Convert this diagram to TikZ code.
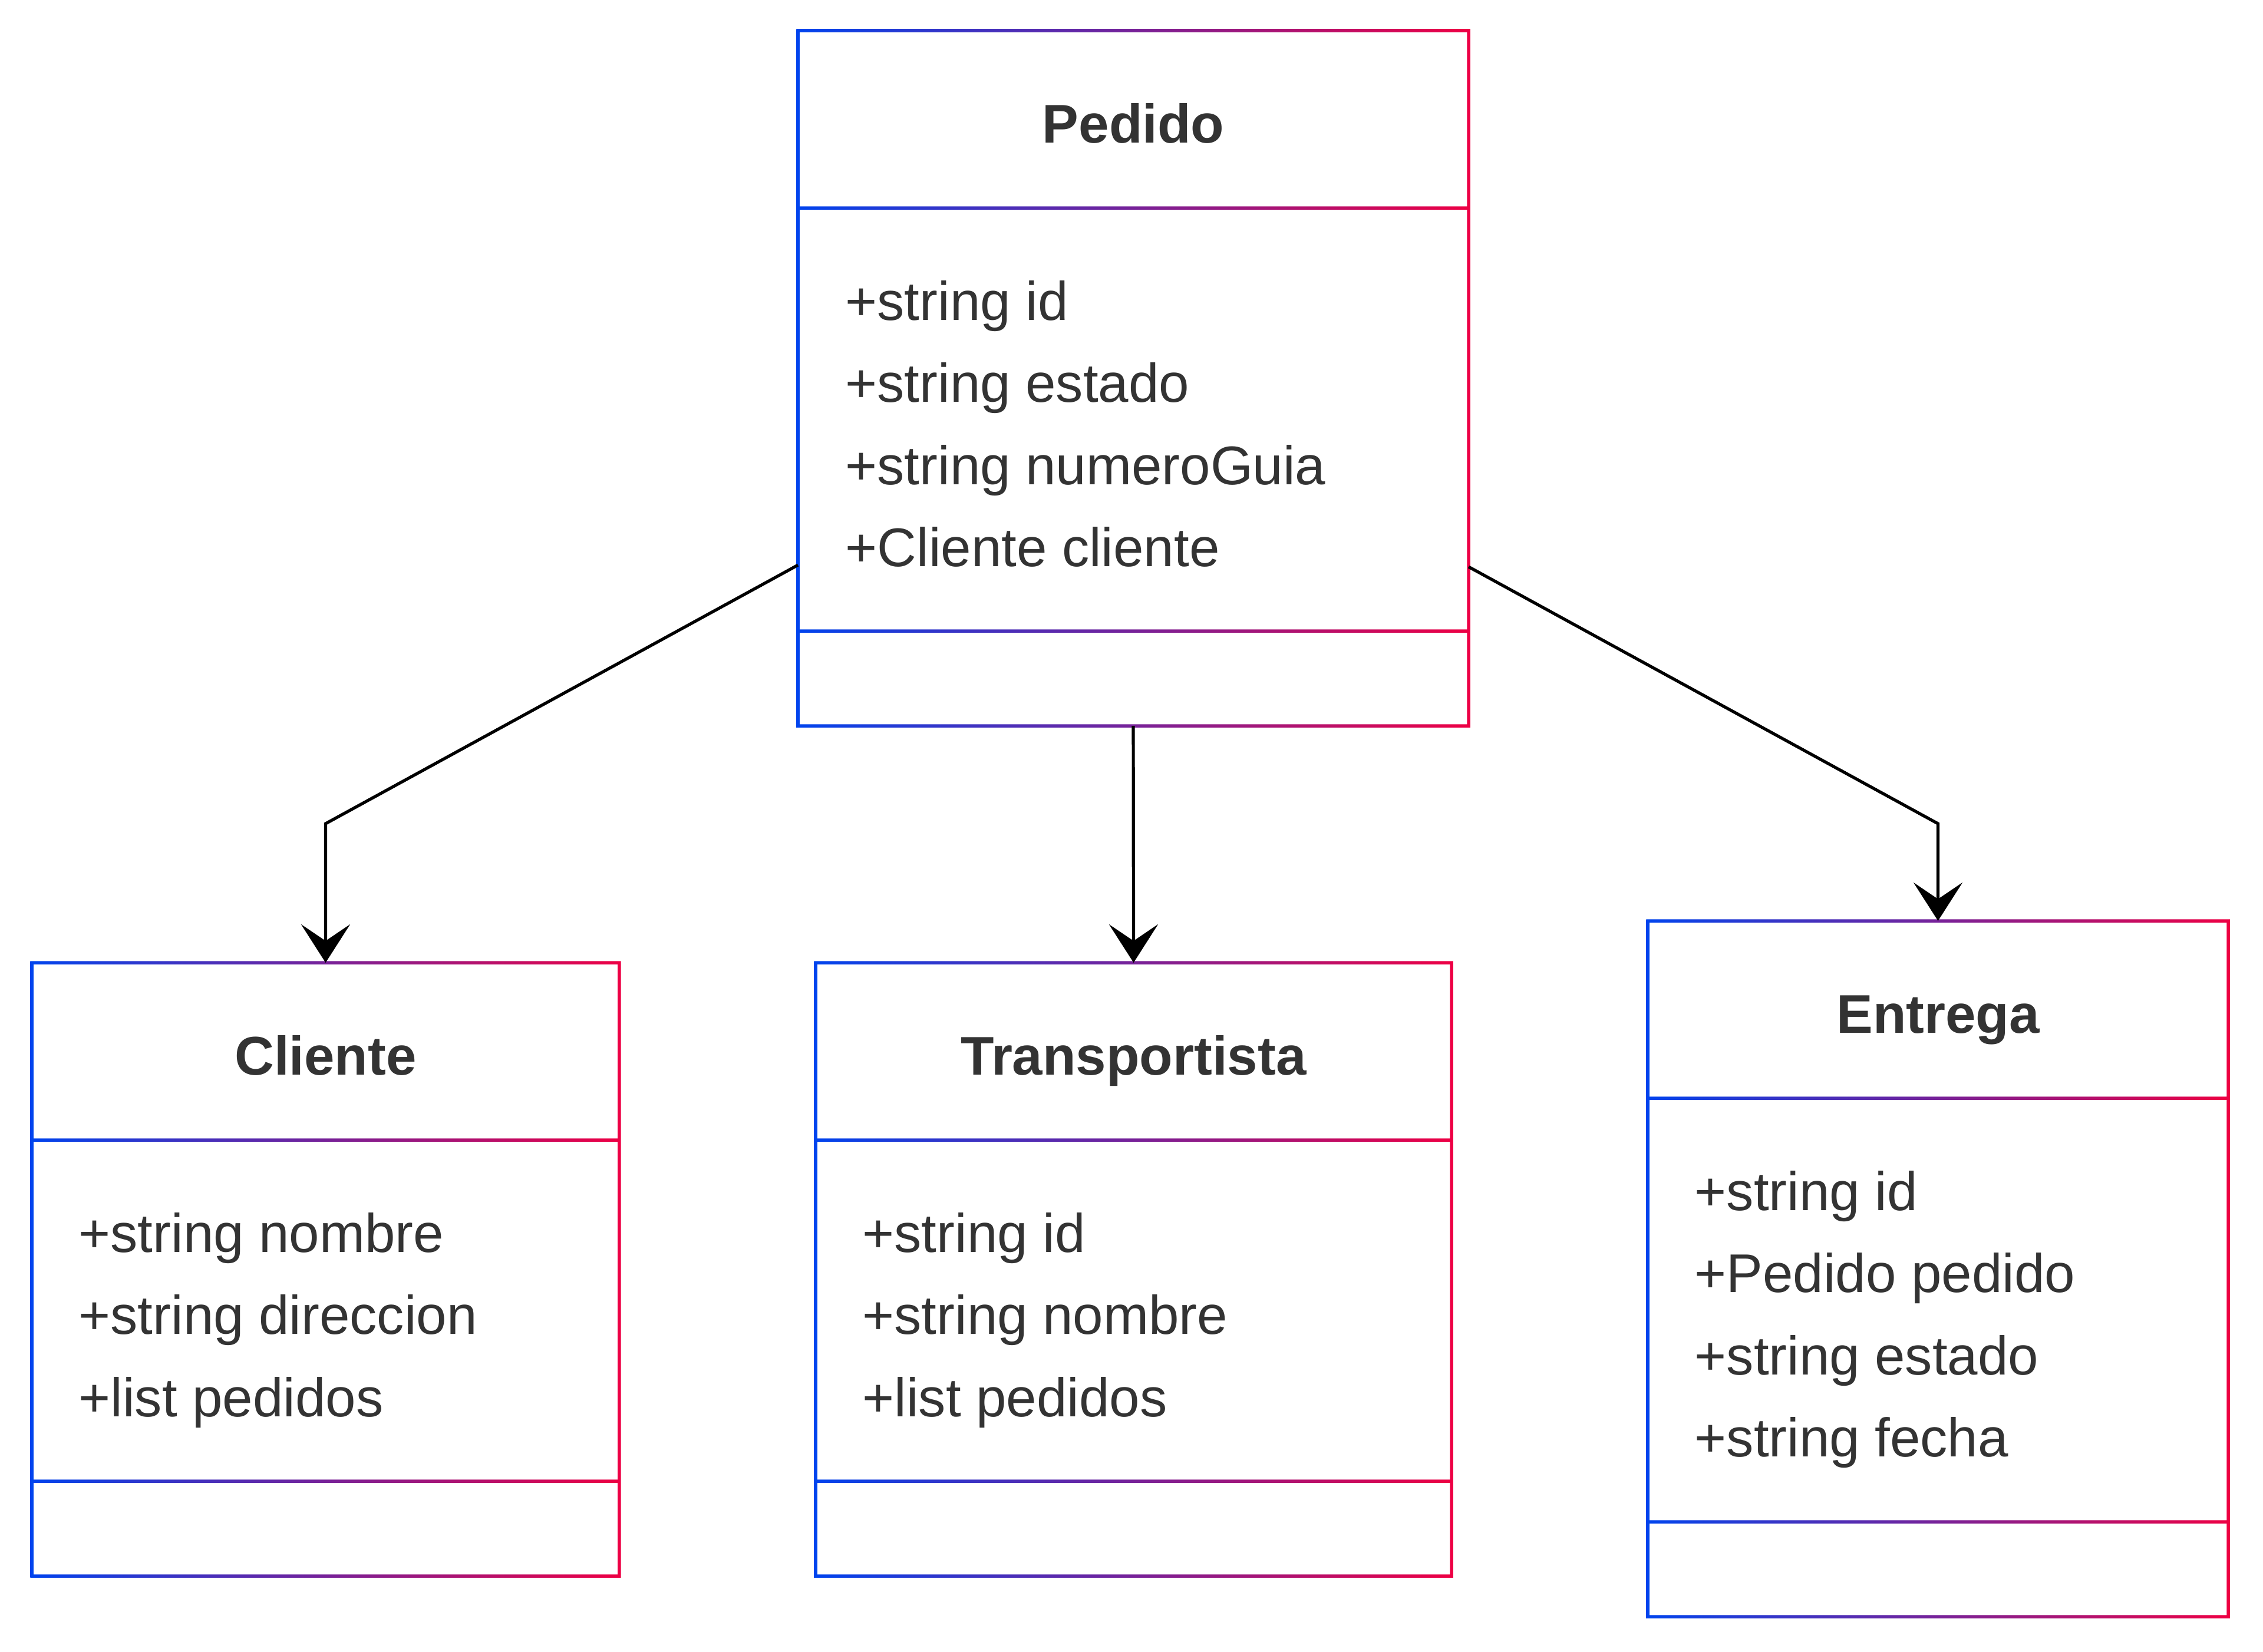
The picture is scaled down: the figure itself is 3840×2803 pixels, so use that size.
\documentclass[tikz,border=0pt]{standalone}
\usepackage{fontspec}
\setmainfont{Liberation Sans}
\usetikzlibrary{arrows.meta}
\usetikzlibrary{calc}
\definecolor{umlblue}{HTML}{0044EE}
\definecolor{umlred}{HTML}{EE0044}
\definecolor{umltext}{HTML}{333333}

% frame of a class box: node name, y of first divider, y of second divider
\newcommand{\classframe}[3]{
    \shade[gradborder]
        ([shift={(-2.75,-2.75)}]#1.north west) rectangle ([shift={(2.75,2.75)}]#1.south east)
        ([shift={(2.75,2.75)}]#1.north west) rectangle ([shift={(-2.75,-2.75)}]#1.south east)
        ($(#1.west |- 0,#2)+(2.75,-2.75)$) rectangle ($(#1.east |- 0,#2)+(-2.75,2.75)$)
        ($(#1.west |- 0,#3)+(2.75,-2.75)$) rectangle ($(#1.east |- 0,#3)+(-2.75,2.75)$);
}

\begin{document}
\begin{tikzpicture}
    [
    x=0.01cm, y=-0.01cm,
    arrow/.style={
        line width=0.052cm,
        -{Stealth[length=0.65cm, width=0.83cm, inset=0.28cm]}
    },
    classbox/.style={
        rectangle,
        inner sep=0pt,
        anchor=north west
    },
    gradborder/.style={
        left color=umlblue,
        right color=umlred,
        even odd rule
    },
    title/.style={
        anchor=base,
        inner sep=0pt,
        text=umltext,
        font=\fontsize{26.3}{31}\selectfont\bfseries
    },
    attr/.style={
        anchor=base west,
        inner sep=0pt,
        text=umltext,
        font=\fontsize{26.3}{31}\selectfont
    },
    ]

    \fill[white] (0,0) rectangle (3840,2803);
    \useasboundingbox (0,0) rectangle (3840,2803);

    \node[classbox, minimum width=11.36cm, minimum height=11.78cm] (pedido) at (1354,52) {};
    \node[classbox, minimum width=9.95cm, minimum height=10.39cm] (cliente) at (54,1634) {};
    \node[classbox, minimum width=10.77cm, minimum height=10.39cm] (transp) at (1384,1634) {};
    \node[classbox, minimum width=9.83cm, minimum height=11.79cm] (entrega) at (2796,1563) {};

    \classframe{pedido}{353}{1071}
    \classframe{cliente}{1935}{2514}
    \classframe{transp}{1935}{2514}
    \classframe{entrega}{1864}{2583}

    \node[title] (pedidot) at ([shift={(0,190)}]pedido.north) {Pedido};
    \node[title] (clientet) at ([shift={(0,190)}]cliente.north) {Cliente};
    \node[title] (transpt) at ([shift={(0,190)}]transp.north) {Transportista};
    \node[title] (entregat) at ([shift={(0,190)}]entrega.north) {Entrega};

    \foreach \t [count=\i from 0] in {+string id, +string estado, +string numeroGuia, +Cliente cliente}
        \node[attr] (pedidoa\i) at ([shift={(80,491+139.5*\i)}]pedido.north west) {\t};
    \foreach \t [count=\i from 0] in {+string nombre, +string direccion, +list pedidos}
        \node[attr] (clientea\i) at ([shift={(79,491+139.5*\i)}]cliente.north west) {\t};
    \foreach \t [count=\i from 0] in {+string id, +string nombre, +list pedidos}
        \node[attr] (transpa\i) at ([shift={(79,491+139.5*\i)}]transp.north west) {\t};
    \foreach \t [count=\i from 0] in {+string id, +Pedido pedido, +string estado, +string fecha}
        \node[attr] (entregaa\i) at ([shift={(79,491+139.5*\i)}]entrega.north west) {\t};

    \coordinate (bend) at (0,1398);
    \draw [arrow] ([shift={(0,-273)}]pedido.south west) -- (cliente.north |- bend) -- (cliente.north);
    \draw [arrow] (pedido.south) -- (transp.north);
    \draw [arrow] ([shift={(0,-270)}]pedido.south east) -- (entrega.north |- bend) -- (entrega.north);

\end{tikzpicture}
\end{document}
